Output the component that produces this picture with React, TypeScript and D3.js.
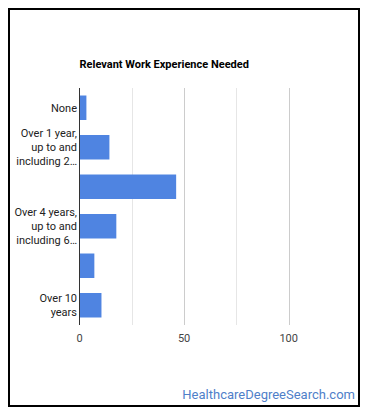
import { useRef, useEffect } from "react";
import * as d3 from "d3";

const WIDTH = 370;
const HEIGHT = 417;

const CATEGORIES = [
  "None",
  "Over 1 year, up to and including 2 years",
  "Over 2 years, up to and including 4 years",
  "Over 4 years, up to and including 6 years",
  "Over 6 years, up to and including 10 years",
  "Over 10 years",
];
// lines shown on the axis (Google-style wrapping, every other label hidden)
const LABEL_LINES = [
  ["None"],
  ["Over 1 year,", "up to and", "including 2…"],
  [],
  ["Over 4 years,", "up to and", "including 6…"],
  [],
  ["Over 10", "years"],
];
const VALUES = [3.3, 14.3, 46.2, 17.6, 7.1, 10.5];
const MAJOR_TICKS = [0, 50, 100];
const MINOR_TICKS = [25, 75];

const BAR_COLOR = "#4f84e1";
const FONT = "Roboto, Arial, sans-serif";

export default function App() {
  const svgRef = useRef<SVGSVGElement>(null);

  useEffect(() => {
    const svg = d3.select(svgRef.current);
    svg.selectAll("*").remove();

    const left = 79.5;
    const right = 341;
    const top = 88;
    const bottom = 325;

    const x = d3.scaleLinear().domain([0, 125]).range([left, right]);
    const y = d3.scaleBand<string>()
      .domain(CATEGORIES)
      .range([top, bottom])
      .paddingInner(0.38)
      .paddingOuter(0.19);

    // outer frame
    svg.append("rect")
      .attr("x", 9).attr("y", 9)
      .attr("width", 350).attr("height", 397)
      .attr("fill", "#fff")
      .attr("stroke", "#000")
      .attr("stroke-width", 2);

    svg.append("text")
      .attr("x", left)
      .attr("y", 68)
      .text("Relevant Work Experience Needed")
      .attr("font-family", FONT)
      .attr("font-size", 11)
      .attr("font-weight", 700)
      .attr("fill", "#000");

    // gridlines
    svg.selectAll("line.minor")
      .data(MINOR_TICKS)
      .enter()
      .append("line")
      .attr("x1", d => Math.round(x(d)) + 0.5)
      .attr("x2", d => Math.round(x(d)) + 0.5)
      .attr("y1", top)
      .attr("y2", bottom)
      .attr("stroke", "#e6e6e6");

    svg.selectAll("line.major")
      .data(MAJOR_TICKS.filter(t => t > 0))
      .enter()
      .append("line")
      .attr("x1", d => Math.round(x(d)) + 0.5)
      .attr("x2", d => Math.round(x(d)) + 0.5)
      .attr("y1", top)
      .attr("y2", bottom)
      .attr("stroke", "#cccccc");

    // bars
    svg.selectAll("rect.bar")
      .data(VALUES)
      .enter()
      .append("rect")
      .attr("x", x(0))
      .attr("y", (_d, i) => y(CATEGORIES[i])!)
      .attr("width", d => x(d) - x(0))
      .attr("height", y.bandwidth())
      .attr("fill", BAR_COLOR);

    // baseline
    svg.append("line")
      .attr("x1", left).attr("x2", left)
      .attr("y1", top).attr("y2", bottom)
      .attr("stroke", "#333")
      .attr("stroke-width", 1);

    // category labels
    LABEL_LINES.forEach((lines, i) => {
      if (!lines.length) return;
      const cy = y(CATEGORIES[i])! + y.bandwidth() / 2;
      const lh = 14;
      const start = cy - ((lines.length - 1) * lh) / 2;
      const t = svg.append("text")
        .attr("text-anchor", "end")
        .attr("font-family", FONT)
        .attr("font-size", 11)
        .attr("fill", "#222");
      lines.forEach((ln, j) => {
        t.append("tspan")
          .attr("x", 77)
          .attr("y", start + j * lh)
          .attr("dy", "0.35em")
          .text(ln);
      });
    });

    // x tick labels
    svg.selectAll("text.tick")
      .data(MAJOR_TICKS)
      .enter()
      .append("text")
      .attr("x", d => x(d))
      .attr("y", 342)
      .attr("text-anchor", "middle")
      .attr("font-family", FONT)
      .attr("font-size", 11)
      .attr("fill", "#444")
      .text(d => String(d));

    svg.append("text")
      .attr("x", 355)
      .attr("y", 399)
      .attr("text-anchor", "end")
      .attr("font-family", FONT)
      .attr("font-size", 13)
      .attr("fill", "#4f7fc9")
      .text("HealthcareDegreeSearch.com");
  }, []);

  return (
    <svg
      ref={svgRef}
      width={WIDTH}
      height={HEIGHT}
      style={{ position: "absolute", left: 0, top: 0, display: "block", background: "#fff" }}
    />
  );
}
